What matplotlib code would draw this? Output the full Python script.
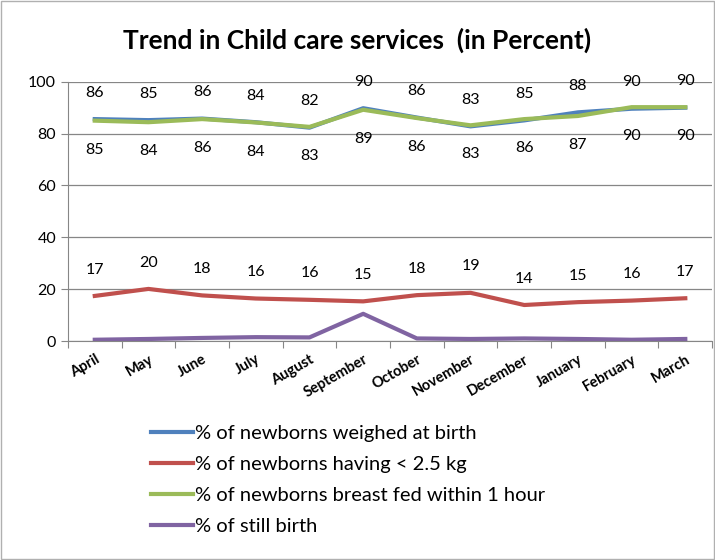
import matplotlib.pyplot as plt
from matplotlib.patches import Rectangle
import numpy as np

plt.rcParams['font.family'] = ['Lato', 'DejaVu Sans']

months = ['April', 'May', 'June', 'July', 'August', 'September', 'October',
          'November', 'December', 'January', 'February', 'March']
weighed = [85.6, 85.2, 85.8, 84.4, 82.3, 89.8, 86.2, 82.8, 85.1, 88.2, 89.6, 90.0]
weighed_lbl = [86, 85, 86, 84, 82, 90, 86, 83, 85, 88, 90, 90]
low_wt = [17.4, 20.1, 17.6, 16.4, 15.9, 15.3, 17.7, 18.6, 13.9, 15.0, 15.6, 16.5]
low_wt_lbl = [17, 20, 18, 16, 16, 15, 18, 19, 14, 15, 16, 17]
breastfed = [85.0, 84.4, 85.6, 84.3, 82.6, 89.2, 86.0, 83.2, 85.6, 86.8, 90.2, 90.2]
breastfed_lbl = [85, 84, 86, 84, 83, 89, 86, 83, 86, 87, 90, 90]
still = [0.5, 0.8, 1.2, 1.5, 1.4, 10.5, 1.0, 0.8, 1.0, 0.8, 0.5, 0.8]

fig = plt.figure(figsize=(7.15, 5.6), dpi=100)
fig.patches.append(Rectangle((0.002, 0.002), 0.996, 0.996, transform=fig.transFigure,
                             fill=False, edgecolor='#b0b0b0', lw=1))
ax = fig.add_axes([0.095, 0.391, 0.901, 0.463])

x = np.arange(len(months))
l1, = ax.plot(x, weighed, color='#4F81BD', lw=3, label='% of newborns weighed at birth')
l2, = ax.plot(x, low_wt, color='#C0504D', lw=3, label='% of newborns having < 2.5 kg')
l3, = ax.plot(x, breastfed, color='#9BBB59', lw=3, label='% of newborns breast fed within 1 hour')
l4, = ax.plot(x, still, color='#8064A2', lw=3, label='% of still birth')

for i in x:
    ax.annotate(str(weighed_lbl[i]), (i, weighed[i]), xytext=(0, 19), textcoords='offset points',
                ha='center', va='center', fontsize=11.5)
    ax.annotate(str(breastfed_lbl[i]), (i, breastfed[i]), xytext=(0, -21), textcoords='offset points',
                ha='center', va='center', fontsize=11.5)
    ax.annotate(str(low_wt_lbl[i]), (i, low_wt[i]), xytext=(0, 19), textcoords='offset points',
                ha='center', va='center', fontsize=11.5)

ax.set_xlim(-0.5, 11.5)
ax.set_ylim(0, 100)
ax.set_yticks([0, 20, 40, 60, 80, 100])
ax.yaxis.grid(True, color='#868686', lw=0.9)
ax.set_axisbelow(True)
for s in ['top', 'right']:
    ax.spines[s].set_visible(False)
for s in ['left', 'bottom']:
    ax.spines[s].set_color('#868686')
ax.tick_params(axis='y', colors='#868686', labelcolor='black', labelsize=11.5, length=5)
ax.set_xticks(np.arange(-0.5, 12, 1))
ax.set_xticklabels([])
ax.set_xticks(x, minor=True)
ax.set_xticklabels(months, minor=True, rotation=30, ha='right', rotation_mode='anchor',
                   fontsize=10.5, fontweight='bold')
ax.tick_params(axis='x', which='major', colors='#868686', length=5)
ax.tick_params(axis='x', which='minor', length=0, pad=8)

fig.text(0.50, 0.928, 'Trend in Child care services  (in Percent)', ha='center', va='center',
         fontsize=19, fontweight='bold')

fig.legend(handles=[l1, l2, l3, l4], loc='upper left', bbox_to_anchor=(0.2, 0.255),
           frameon=False, fontsize=14.5, handlelength=2.1, handletextpad=0.1,
           labelspacing=0.68, borderaxespad=0)

fig.savefig('out.png', dpi=100)
